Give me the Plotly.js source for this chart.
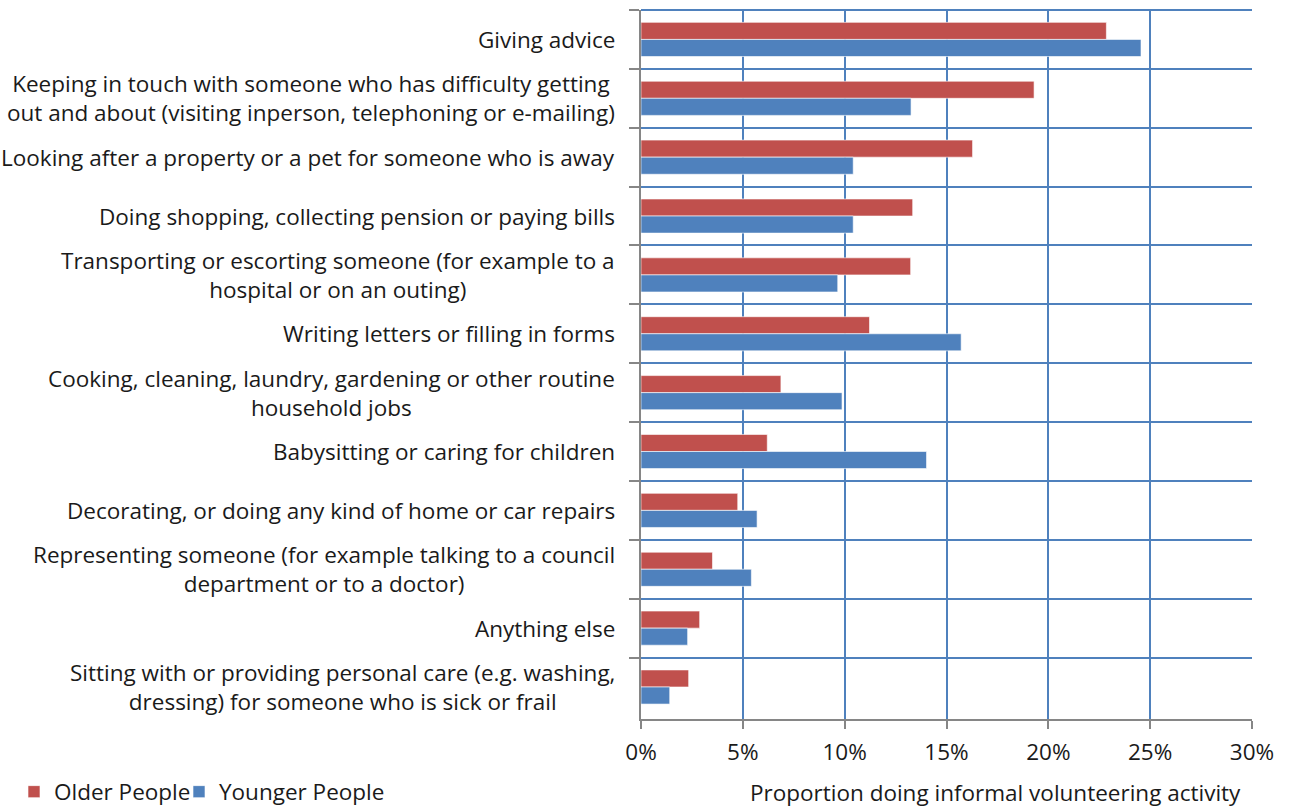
<!DOCTYPE html>
<html>
<head>
<meta charset="utf-8">
<script src="https://cdn.plot.ly/plotly-3.0.1.min.js"></script>
<style>
html,body{margin:0;padding:0;background:#fff;}
#chart{width:1291px;height:809px;}
</style>
</head>
<body>
<div id="chart"></div>
<script>
var categories = [
  "Giving advice",
  "Keeping in touch with someone who has difficulty getting<br>out and about (visiting inperson, telephoning or e-mailing)",
  "Looking after a property or a pet for someone who is away",
  "Doing shopping, collecting pension or paying bills",
  "Transporting or escorting someone (for example to a<br>hospital or on an outing)",
  "Writing letters or filling in forms",
  "Cooking, cleaning, laundry, gardening or other routine<br>household jobs",
  "Babysitting or caring for children",
  "Decorating, or doing any kind of home or car repairs",
  "Representing someone (for example talking to a council<br>department or to a doctor)",
  "Anything else",
  "Sitting with or providing personal care (e.g. washing,<br>dressing) for someone who is sick or frail"
];
var olderPeople   = [22.85, 19.3, 16.28, 13.34, 13.24, 11.22, 6.87, 6.2, 4.75, 3.51, 2.88, 2.34];
var youngerPeople = [24.55, 13.26, 10.42, 10.42, 9.66, 15.72, 9.87, 14.02, 5.7, 5.42, 2.29, 1.41];
var xTickVals = [0, 5, 10, 15, 20, 25, 30];
var xTickText = ["0%", "5%", "10%", "15%", "20%", "25%", "30%"];
var seriesNames = ["Older People", "Younger People"];
var xTitle = "Proportion doing informal volunteering activity";

var FONT = "Open Sans, Noto Sans, sans-serif";
var FS = 22.5;
var yIdx = categories.map(function(c, i){ return i; });

var traces = [
  {type: "bar", orientation: "h", name: seriesNames[0], y: yIdx, x: olderPeople, legend: "legend",
   marker: {color: "#C0504D", line: {color: "rgba(255,255,255,0.6)", width: 1}}, hoverinfo: "x+name"},
  {type: "bar", orientation: "h", name: seriesNames[1], y: yIdx, x: youngerPeople, legend: "legend2",
   marker: {color: "#4F81BD", line: {color: "rgba(255,255,255,0.6)", width: 1}}, hoverinfo: "x+name"}
];

var annotations = categories.map(function(c, i){
  return {xref: "paper", yref: "y", x: -0.039, y: i, text: c, showarrow: false,
          xanchor: "right", yanchor: "middle", align: "center",
          font: {family: FONT, size: FS, color: "#1a1a1a"}};
});
annotations.push({xref: "paper", yref: "paper", x: 0.581, y: -0.103, text: xTitle, showarrow: false,
  xanchor: "center", yanchor: "middle", font: {family: FONT, size: FS, color: "#1a1a1a"}});

function legendAt(px) {
  return {orientation: "h", xref: "container", yref: "container", x: px / 1291, xanchor: "left",
          y: 1 - 792 / 809, yanchor: "middle",
          font: {family: FONT, size: FS, color: "#1a1a1a"}, bgcolor: "rgba(0,0,0,0)"};
}

var layout = {
  width: 1291, height: 809,
  margin: {l: 641, r: 39, t: 10, b: 90, pad: 0},
  paper_bgcolor: "#fff", plot_bgcolor: "#fff",
  barmode: "group", bargap: 0.42, bargroupgap: 0,
  font: {family: FONT, size: FS, color: "#1a1a1a"},
  showlegend: true,
  legend: legendAt(14),
  legend2: legendAt(179),
  xaxis: {range: [0, 30], tickvals: xTickVals, ticktext: xTickText, showgrid: true,
          gridcolor: "#4F81BD", gridwidth: 2, zeroline: false, showline: true, linecolor: "#868686",
          linewidth: 2, ticks: "outside", ticklen: 8, tickcolor: "#868686", tickwidth: 2,
          ticklabelstandoff: 4,
          tickfont: {family: FONT, size: FS, color: "#1a1a1a"}, fixedrange: true},
  yaxis: {type: "category", autorange: "reversed", tickson: "boundaries", showgrid: true,
          gridcolor: "#4F81BD", gridwidth: 2, showline: true, linecolor: "#868686", linewidth: 2,
          ticks: "outside", ticklen: 10, tickcolor: "#868686", tickwidth: 2,
          showticklabels: false, zeroline: false, fixedrange: true},
  annotations: annotations,
  shapes: [{type: "line", xref: "paper", yref: "paper", x0: 0, x1: 1, y0: 1, y1: 1,
            line: {color: "#4F81BD", width: 2}}]
};

Plotly.newPlot("chart", traces, layout, {displayModeBar: false, staticPlot: true});
</script>
</body>
</html>
